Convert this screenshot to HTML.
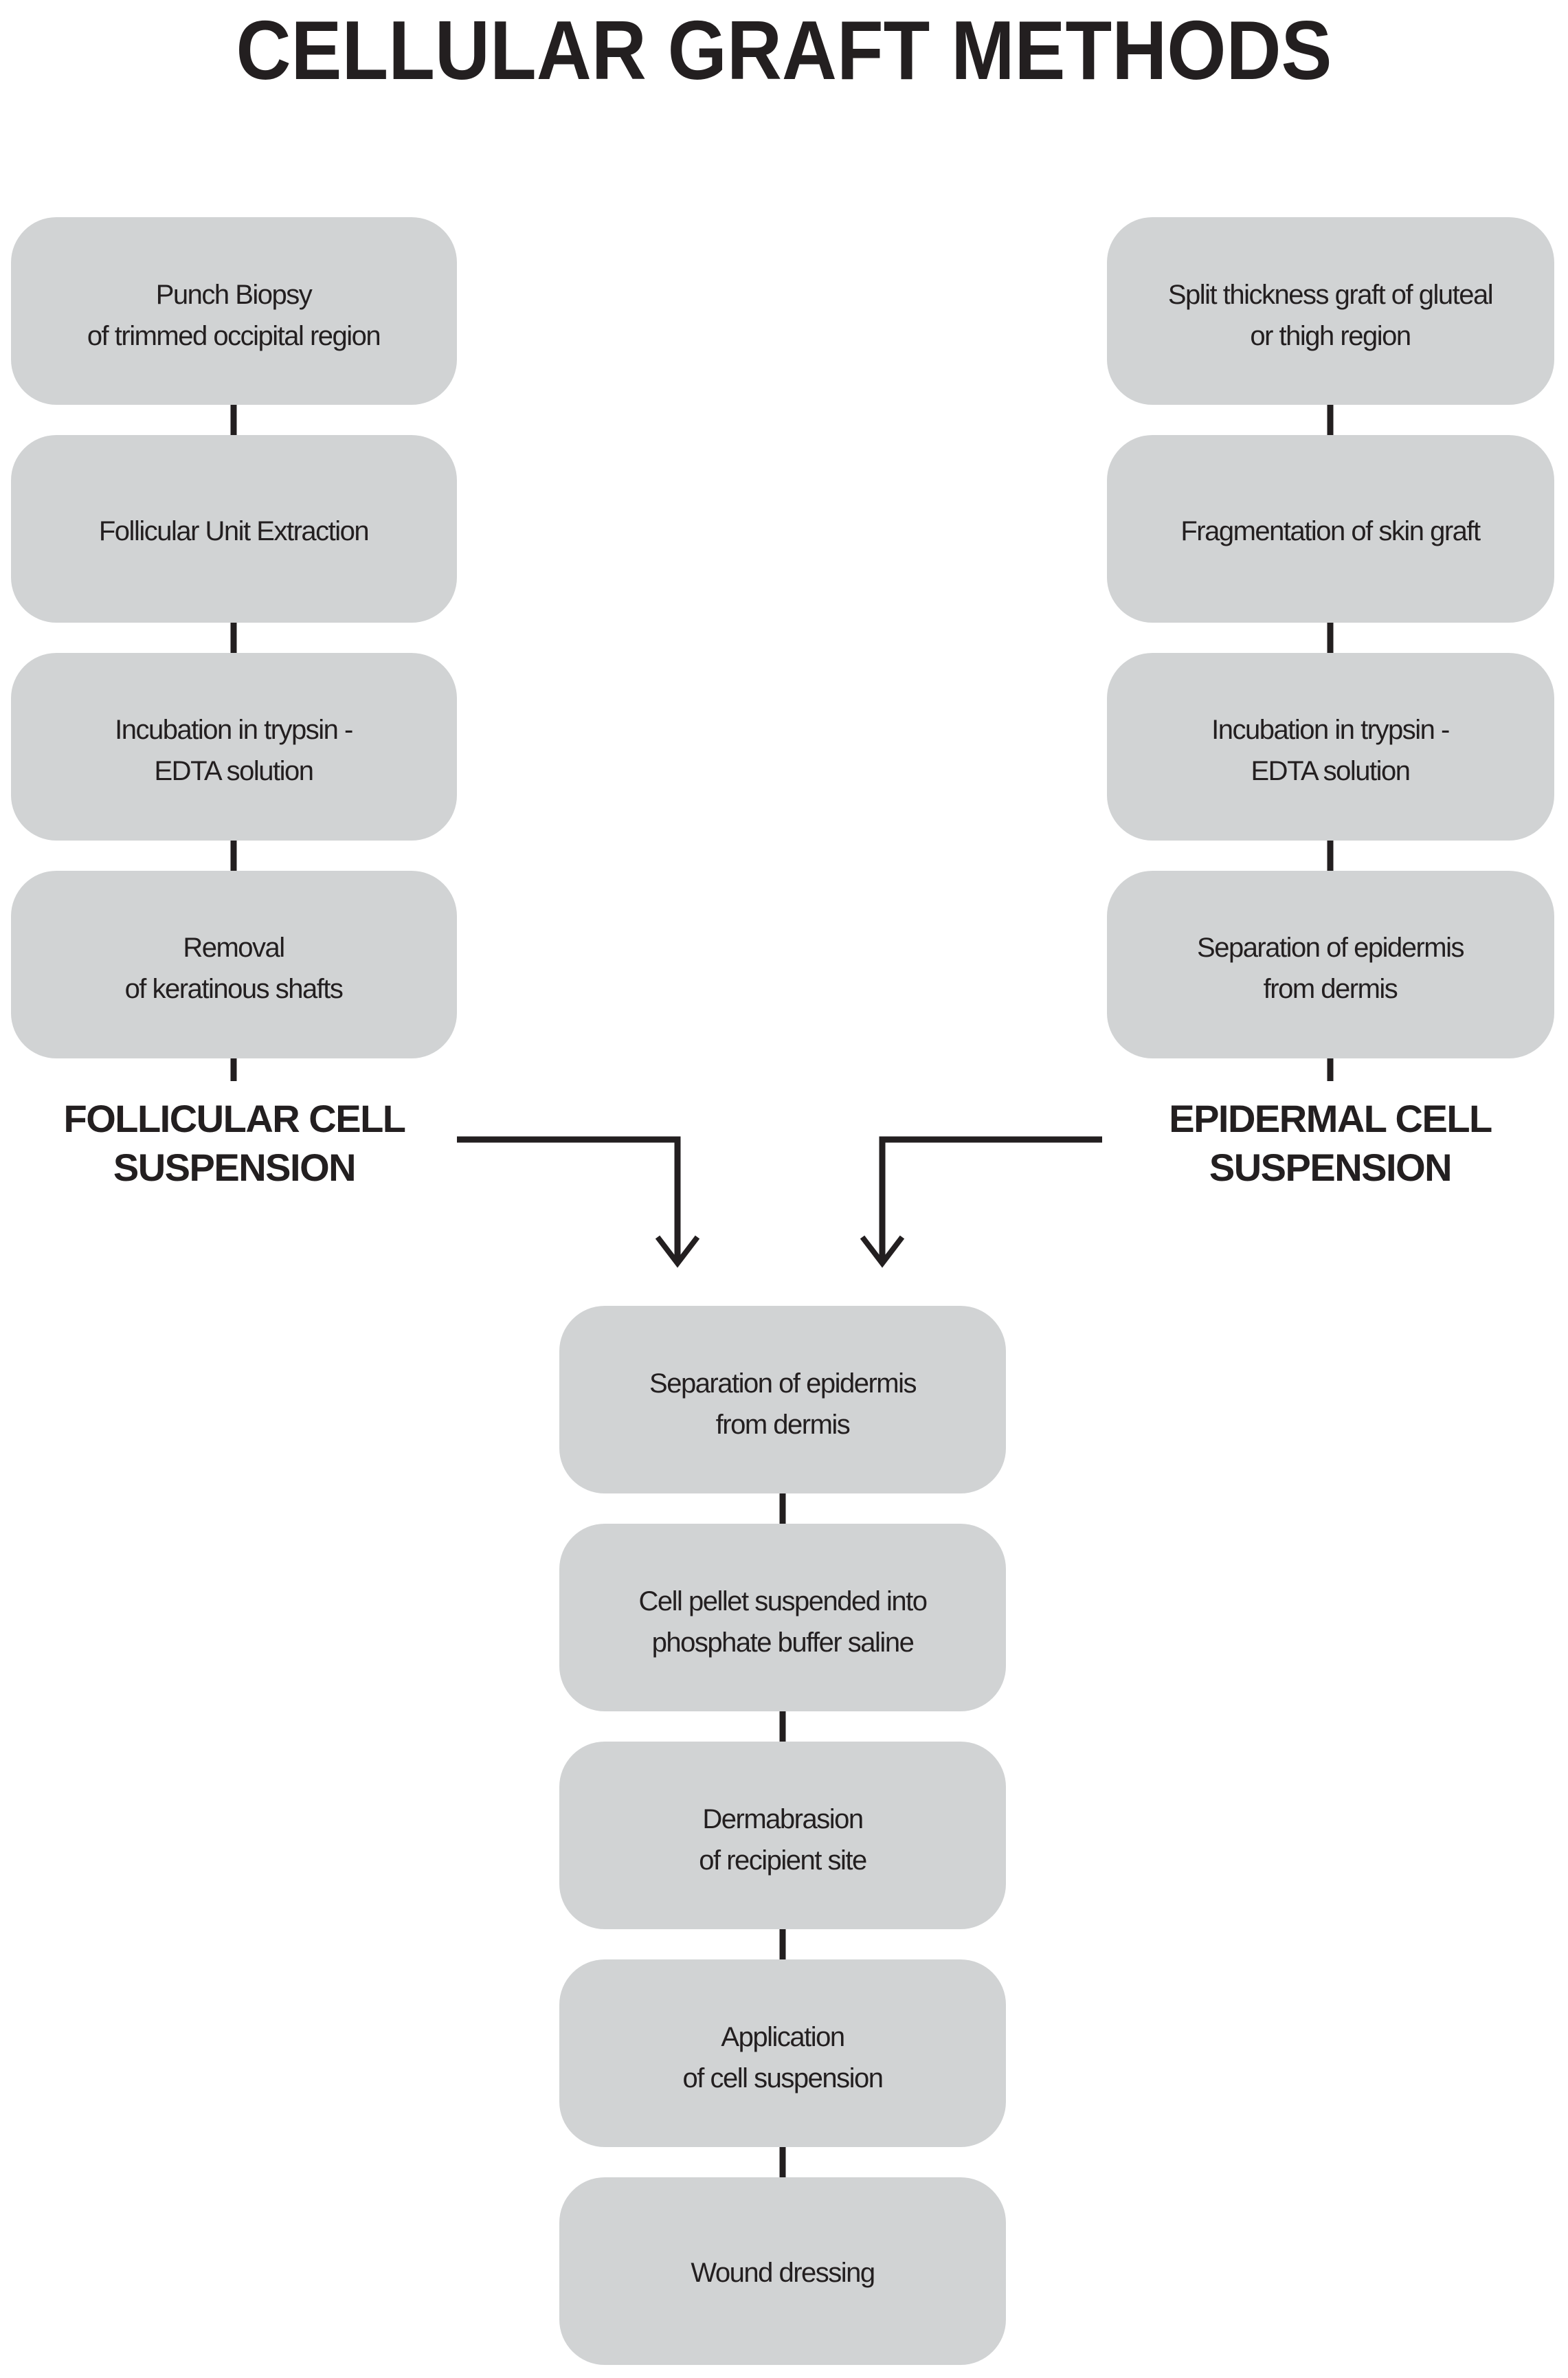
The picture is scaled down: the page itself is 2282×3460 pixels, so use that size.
<!DOCTYPE html>
<html><head><meta charset="utf-8"><style>
html,body{margin:0;padding:0;background:#fff;}
svg{display:block;}
.t{font-family:"Liberation Sans",sans-serif;font-size:40px;fill:#231f20;text-anchor:middle;letter-spacing:-1.5px;}
.h{font-family:"Liberation Sans",sans-serif;font-weight:bold;font-size:56px;fill:#231f20;text-anchor:middle;letter-spacing:-1.5px;}
</style></head><body>
<svg width="2282" height="3460" viewBox="0 0 2282 3460" xmlns="http://www.w3.org/2000/svg">
<text x="1141" y="115" font-family="Liberation Sans, sans-serif" font-weight="bold" font-size="122" fill="#231f20" text-anchor="middle" textLength="1595" lengthAdjust="spacingAndGlyphs">CELLULAR GRAFT METHODS</text>
<g fill="#d1d3d4">
<rect x="16" y="316" width="649" height="273" rx="66"/>
<rect x="16" y="633" width="649" height="273" rx="66"/>
<rect x="16" y="950" width="649" height="273" rx="66"/>
<rect x="16" y="1267" width="649" height="273" rx="66"/>
<rect x="1611" y="316" width="651" height="273" rx="66"/>
<rect x="1611" y="633" width="651" height="273" rx="66"/>
<rect x="1611" y="950" width="651" height="273" rx="66"/>
<rect x="1611" y="1267" width="651" height="273" rx="66"/>
<rect x="814" y="1900" width="650" height="273" rx="66"/>
<rect x="814" y="2217" width="650" height="273" rx="66"/>
<rect x="814" y="2534" width="650" height="273" rx="66"/>
<rect x="814" y="2851" width="650" height="273" rx="66"/>
<rect x="814" y="3168" width="650" height="273" rx="66"/>
</g>
<g stroke="#231f20" stroke-width="9" fill="none">
<line x1="340" y1="589" x2="340" y2="633"/>
<line x1="340" y1="906" x2="340" y2="950"/>
<line x1="340" y1="1223" x2="340" y2="1267"/>
<line x1="340" y1="1540" x2="340" y2="1573"/>
<line x1="1936" y1="589" x2="1936" y2="633"/>
<line x1="1936" y1="906" x2="1936" y2="950"/>
<line x1="1936" y1="1223" x2="1936" y2="1267"/>
<line x1="1936" y1="1540" x2="1936" y2="1573"/>
<line x1="1139" y1="2173" x2="1139" y2="2217"/>
<line x1="1139" y1="2490" x2="1139" y2="2534"/>
<line x1="1139" y1="2807" x2="1139" y2="2851"/>
<line x1="1139" y1="3124" x2="1139" y2="3168"/>
<polyline points="665,1658 986,1658 986,1835"/>
<polyline points="1604,1658 1284,1658 1284,1835"/>
<polyline points="957,1800 986,1838 1015,1800" stroke-width="8"/>
<polyline points="1255,1800 1284,1838 1313,1800" stroke-width="8"/>
</g>
<text class="t" x="340" y="442">Punch Biopsy</text>
<text class="t" x="340" y="502">of trimmed occipital region</text>
<text class="t" x="340" y="786">Follicular Unit Extraction</text>
<text class="t" x="340" y="1075">Incubation in trypsin -</text>
<text class="t" x="340" y="1135">EDTA solution</text>
<text class="t" x="340" y="1392">Removal</text>
<text class="t" x="340" y="1452">of keratinous shafts</text>
<text class="t" x="1936" y="442">Split thickness graft of gluteal</text>
<text class="t" x="1936" y="502">or thigh region</text>
<text class="t" x="1936" y="786">Fragmentation of skin graft</text>
<text class="t" x="1936" y="1075">Incubation in trypsin -</text>
<text class="t" x="1936" y="1135">EDTA solution</text>
<text class="t" x="1936" y="1392">Separation of epidermis</text>
<text class="t" x="1936" y="1452">from dermis</text>
<text class="h" x="341" y="1647">FOLLICULAR CELL</text>
<text class="h" x="341" y="1718">SUSPENSION</text>
<text class="h" x="1936" y="1647">EPIDERMAL CELL</text>
<text class="h" x="1936" y="1718">SUSPENSION</text>
<text class="t" x="1139" y="2026">Separation of epidermis</text>
<text class="t" x="1139" y="2086">from dermis</text>
<text class="t" x="1139" y="2343">Cell pellet suspended into</text>
<text class="t" x="1139" y="2403">phosphate buffer saline</text>
<text class="t" x="1139" y="2660">Dermabrasion</text>
<text class="t" x="1139" y="2720">of  recipient site</text>
<text class="t" x="1139" y="2977">Application</text>
<text class="t" x="1139" y="3037">of cell suspension</text>
<text class="t" x="1139" y="3320">Wound dressing</text>
</svg>
</body></html>
